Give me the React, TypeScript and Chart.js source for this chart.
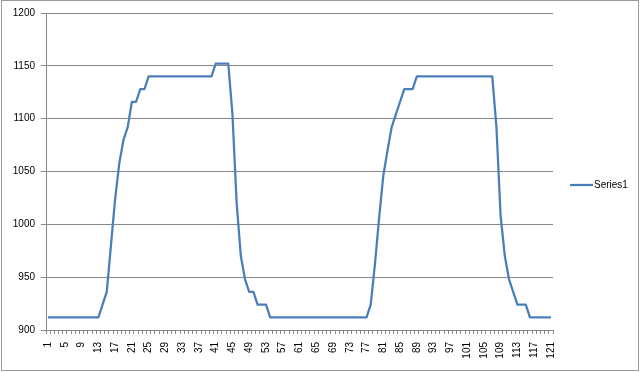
import React, { useEffect, useRef } from "react";
import { Chart, registerables } from "chart.js";

Chart.register(...registerables);

const categories = [
  "1", "2", "3", "4", "5", "6", "7", "8", "9", "10", "11", "12", "13", "14", "15", "16", "17", "18", "19", "20",
  "21", "22", "23", "24", "25", "26", "27", "28", "29", "30", "31", "32", "33", "34", "35", "36", "37", "38", "39", "40",
  "41", "42", "43", "44", "45", "46", "47", "48", "49", "50", "51", "52", "53", "54", "55", "56", "57", "58", "59", "60",
  "61", "62", "63", "64", "65", "66", "67", "68", "69", "70", "71", "72", "73", "74", "75", "76", "77", "78", "79", "80",
  "81", "82", "83", "84", "85", "86", "87", "88", "89", "90", "91", "92", "93", "94", "95", "96", "97", "98", "99", "100",
  "101", "102", "103", "104", "105", "106", "107", "108", "109", "110", "111", "112", "113", "114", "115", "116", "117", "118", "119", "120",
  "121",
];

const series1 = [
  912, 912, 912, 912, 912, 912, 912, 912, 912, 912, 912, 912, 912,
  924, 936, 980, 1024, 1058, 1080, 1092, 1116, 1116, 1128, 1128,
  1140, 1140, 1140, 1140, 1140, 1140, 1140, 1140, 1140, 1140, 1140, 1140, 1140, 1140, 1140, 1140,
  1152, 1152, 1152, 1152,
  1104, 1020, 970, 948, 936, 936, 924, 924, 924,
  912, 912, 912, 912, 912, 912, 912, 912, 912, 912, 912, 912, 912, 912, 912, 912, 912, 912, 912, 912, 912, 912, 912, 912,
  924, 962, 1006, 1046, 1070, 1092, 1104, 1116, 1128, 1128, 1128,
  1140, 1140, 1140, 1140, 1140, 1140, 1140, 1140, 1140, 1140, 1140, 1140, 1140, 1140, 1140, 1140, 1140, 1140, 1140,
  1092, 1008, 970, 948, 936, 924, 924, 924,
  912, 912, 912, 912, 912, 912,
];

const yTicks = [900, 950, 1000, 1050, 1100, 1150, 1200];
const seriesName = "Series1";

const LINE_COLOR = "#4A7EBB";
const AXIS_COLOR = "#868686";
const FONT_FAMILY = "'Liberation Sans', Arial, sans-serif";

export default function App() {
  const ref = useRef<HTMLCanvasElement | null>(null);

  useEffect(() => {
    document.body.style.margin = "0";
    const canvas = ref.current;
    if (!canvas) return;

    const extras = {
      id: "excelExtras",
      afterDraw(chart: any) {
        const ctx = chart.ctx;
        ctx.save();
        // outer chart border
        ctx.strokeStyle = "#9a9a9a";
        ctx.lineWidth = 1;
        ctx.strokeRect(1.5, 0.5, 637, 370);
        // legend
        const y = 185;
        ctx.strokeStyle = LINE_COLOR;
        ctx.lineWidth = 2.25;
        ctx.beginPath();
        ctx.moveTo(570, y);
        ctx.lineTo(593, y);
        ctx.stroke();
        ctx.fillStyle = "#000";
        ctx.font = `10px ${FONT_FAMILY}`;
        ctx.textAlign = "left";
        ctx.textBaseline = "middle";
        ctx.fillText(seriesName, 594, y);
        ctx.restore();
      },
    };

    const chart = new Chart(canvas, {
      type: "line",
      data: {
        labels: categories,
        datasets: [
          {
            label: seriesName,
            data: series1,
            borderColor: LINE_COLOR,
            backgroundColor: LINE_COLOR,
            borderWidth: 2.25,
            pointRadius: 0,
            pointHoverRadius: 0,
            tension: 0,
            fill: false,
            borderJoinStyle: "round",
          },
        ],
      },
      options: {
        responsive: false,
        animation: false,
        maintainAspectRatio: false,
        layout: { padding: { left: 0, top: 13, right: 87, bottom: 0 } },
        plugins: {
          legend: { display: false },
          tooltip: { enabled: false },
        },
        scales: {
          x: {
            type: "category",
            offset: true,
            afterFit: (scale: any) => {
              scale.height = 42;
            },
            grid: {
              offset: true,
              drawOnChartArea: false,
              drawTicks: true,
              tickLength: 4,
              color: AXIS_COLOR,
            },
            border: { display: true, color: AXIS_COLOR, width: 1 },
            ticks: {
              autoSkip: false,
              minRotation: 90,
              maxRotation: 90,
              padding: 8,
              color: "#000",
              font: { family: FONT_FAMILY, size: 10 },
              callback: (_v: any, i: number) => (i % 4 === 0 ? categories[i] : ""),
            },
          },
          y: {
            type: "linear",
            min: 900,
            max: 1200,
            afterFit: (scale: any) => {
              scale.width = 46;
            },
            afterBuildTicks: (scale: any) => {
              scale.ticks = yTicks.map((v) => ({ value: v }));
            },
            grid: {
              color: AXIS_COLOR,
              drawTicks: true,
              tickLength: 5,
            },
            border: { display: true, color: AXIS_COLOR, width: 1 },
            ticks: {
              padding: 6,
              color: "#000",
              font: { family: FONT_FAMILY, size: 10 },
              callback: (v: any) => String(v),
            },
          },
        },
      },
      plugins: [extras],
    } as any);

    return () => chart.destroy();
  }, []);

  return (
    <div style={{ width: 640, height: 372, position: "relative" }}>
      <canvas
        ref={ref}
        width={640}
        height={372}
        style={{ display: "block", width: 640, height: 372 }}
      />
    </div>
  );
}
